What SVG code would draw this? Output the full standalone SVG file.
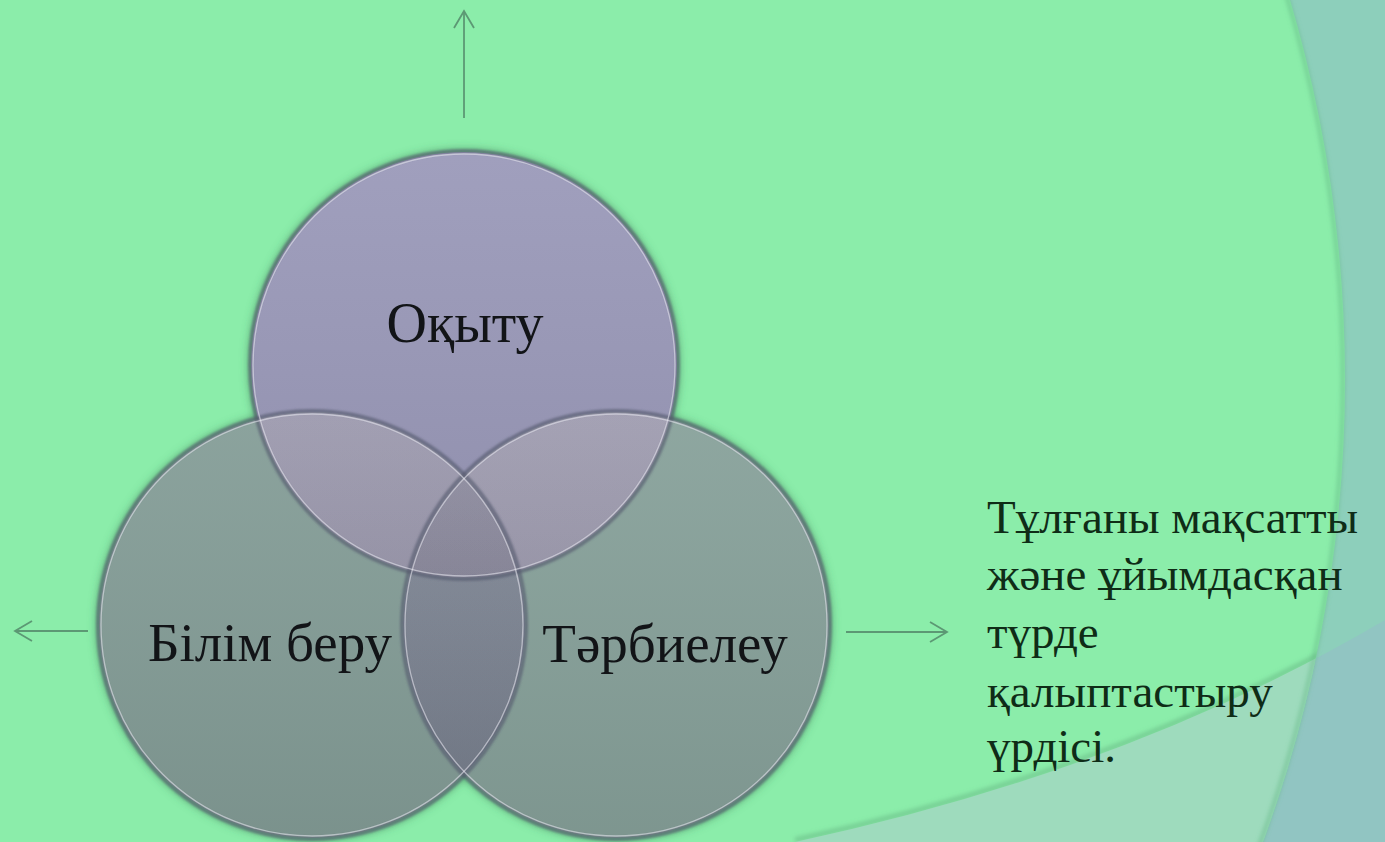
<svg xmlns="http://www.w3.org/2000/svg" width="1385" height="842" viewBox="0 0 1385 842">
  <style>
    .lbl { font-family: "Liberation Serif", "Times New Roman", serif; font-size: 56px; fill: #121417; text-anchor: middle; }
    .desc { font-family: "Liberation Serif", "Times New Roman", serif; font-size: 47px; fill: #0f2c17; }
    .conn { stroke: #5c9874; stroke-width: 1.8; fill: none; }
    .rim { fill: none; stroke: #eeeef6; stroke-opacity: 0.55; stroke-width: 1.3; }
    .edge { fill: none; stroke: #565a6e; stroke-opacity: 0.65; stroke-width: 4; }
  </style>
  <defs>
    <clipPath id="cT"><circle cx="464" cy="365" r="213"/></clipPath>
    <clipPath id="cL"><circle cx="312" cy="625" r="213"/></clipPath>
    <clipPath id="cR"><circle cx="616" cy="625" r="213"/></clipPath>
    <clipPath id="cBig"><circle cx="5" cy="380" r="1340"/></clipPath>
    <filter id="blur4" x="-20%" y="-20%" width="140%" height="140%"><feGaussianBlur stdDeviation="4"/></filter>
    <filter id="blur1" x="-5%" y="-5%" width="110%" height="110%"><feGaussianBlur stdDeviation="1"/></filter>
    <filter id="blur2" x="-5%" y="-5%" width="110%" height="110%"><feGaussianBlur stdDeviation="2"/></filter>
    <linearGradient id="shade" x1="0" y1="0" x2="0" y2="1">
      <stop offset="0" stop-color="#ffffff" stop-opacity="0.06"/>
      <stop offset="1" stop-color="#000000" stop-opacity="0.07"/>
    </linearGradient>
    <marker id="chev" viewBox="-20 -12 22 24" markerWidth="22" markerHeight="24" refX="0" refY="0" orient="auto" markerUnits="userSpaceOnUse">
      <path d="M -17 -10 L 0 0 L -17 10" fill="none" stroke="#5c9874" stroke-width="1.8"/>
    </marker>
  </defs>

  <!-- background -->
  <g id="background">
    <rect x="0" y="0" width="1385" height="842" fill="#8dcfbb"/>
    <path d="M 795 842 Q 1130 770 1385 620 L 1385 842 Z" fill="#91c5c2"/>
    <circle cx="5" cy="380" r="1340" fill="#8bedaa"/>
    <g clip-path="url(#cBig)">
      <path d="M 795 842 Q 1130 770 1385 620" fill="none" stroke="#5fae7e" stroke-opacity="0.5" stroke-width="5" filter="url(#blur2)" transform="translate(0,-2)"/>
      <path d="M 795 842 Q 1130 770 1385 620 L 1385 842 Z" fill="#9edbbd"/>
    </g>
    <circle cx="5" cy="380" r="1338" fill="none" stroke="#62b683" stroke-opacity="0.55" stroke-width="4" filter="url(#blur2)"/>
  </g>

  <!-- outer halo of circles -->
  <g id="halo" filter="url(#blur4)" fill="#3d7f57" fill-opacity="0.6">
    <circle cx="464" cy="365" r="216"/>
    <circle cx="312" cy="625" r="216"/>
    <circle cx="616" cy="625" r="216"/>
  </g>

  <!-- nodes -->
  <g id="node-okytu">
    <circle cx="464" cy="365" r="213" fill="#9a99b9"/>
  </g>
  <g id="node-bilim">
    <circle cx="312" cy="625" r="213" fill="#849d97"/>
    <circle cx="312" cy="625" r="213" fill="#a09db3" clip-path="url(#cT)"/>
  </g>
  <g id="node-tarbie">
    <circle cx="616" cy="625" r="213" fill="#87a19a"/>
    <circle cx="616" cy="625" r="213" fill="#a3a0b5" clip-path="url(#cT)"/>
    <circle cx="616" cy="625" r="213" fill="#7d8594" clip-path="url(#cL)"/>
    <g clip-path="url(#cT)">
      <circle cx="616" cy="625" r="213" fill="#8e8ca2" clip-path="url(#cL)"/>
    </g>
  </g>
  <g id="circle-edges">
    <g fill="url(#shade)">
      <circle cx="464" cy="365" r="213"/>
      <circle cx="312" cy="625" r="213"/>
      <circle cx="616" cy="625" r="213"/>
    </g>
    <g filter="url(#blur1)">
      <circle class="edge" cx="464" cy="365" r="214"/>
      <circle class="edge" cx="312" cy="625" r="214"/>
      <circle class="edge" cx="616" cy="625" r="214"/>
    </g>
    <circle class="rim" cx="464" cy="365" r="211"/>
    <circle class="rim" cx="312" cy="625" r="211"/>
    <circle class="rim" cx="616" cy="625" r="211"/>
  </g>
  <g id="labels">
    <text class="lbl" x="465" y="342">Оқыту</text>
    <text class="lbl" x="270" y="661" style="font-size:55px">Білім беру</text>
    <text class="lbl" x="665" y="662" style="font-size:55px">Тәрбиелеу</text>
  </g>

  <!-- connectors -->
  <g id="connectors">
    <line class="conn" x1="464" y1="118" x2="464" y2="11" marker-end="url(#chev)"/>
    <line class="conn" x1="88" y1="631" x2="15" y2="631" marker-end="url(#chev)"/>
    <line class="conn" x1="846" y1="632" x2="947" y2="632" marker-end="url(#chev)"/>
  </g>

  <!-- description node -->
  <g id="node-desc">
    <text class="desc" x="987" y="533">Тұлғаны мақсатты</text>
    <text class="desc" x="987" y="590">және ұйымдасқан</text>
    <text class="desc" x="987" y="648">түрде</text>
    <text class="desc" x="987" y="707">қалыптастыру</text>
    <text class="desc" x="987" y="762">үрдісі.</text>
  </g>
</svg>
